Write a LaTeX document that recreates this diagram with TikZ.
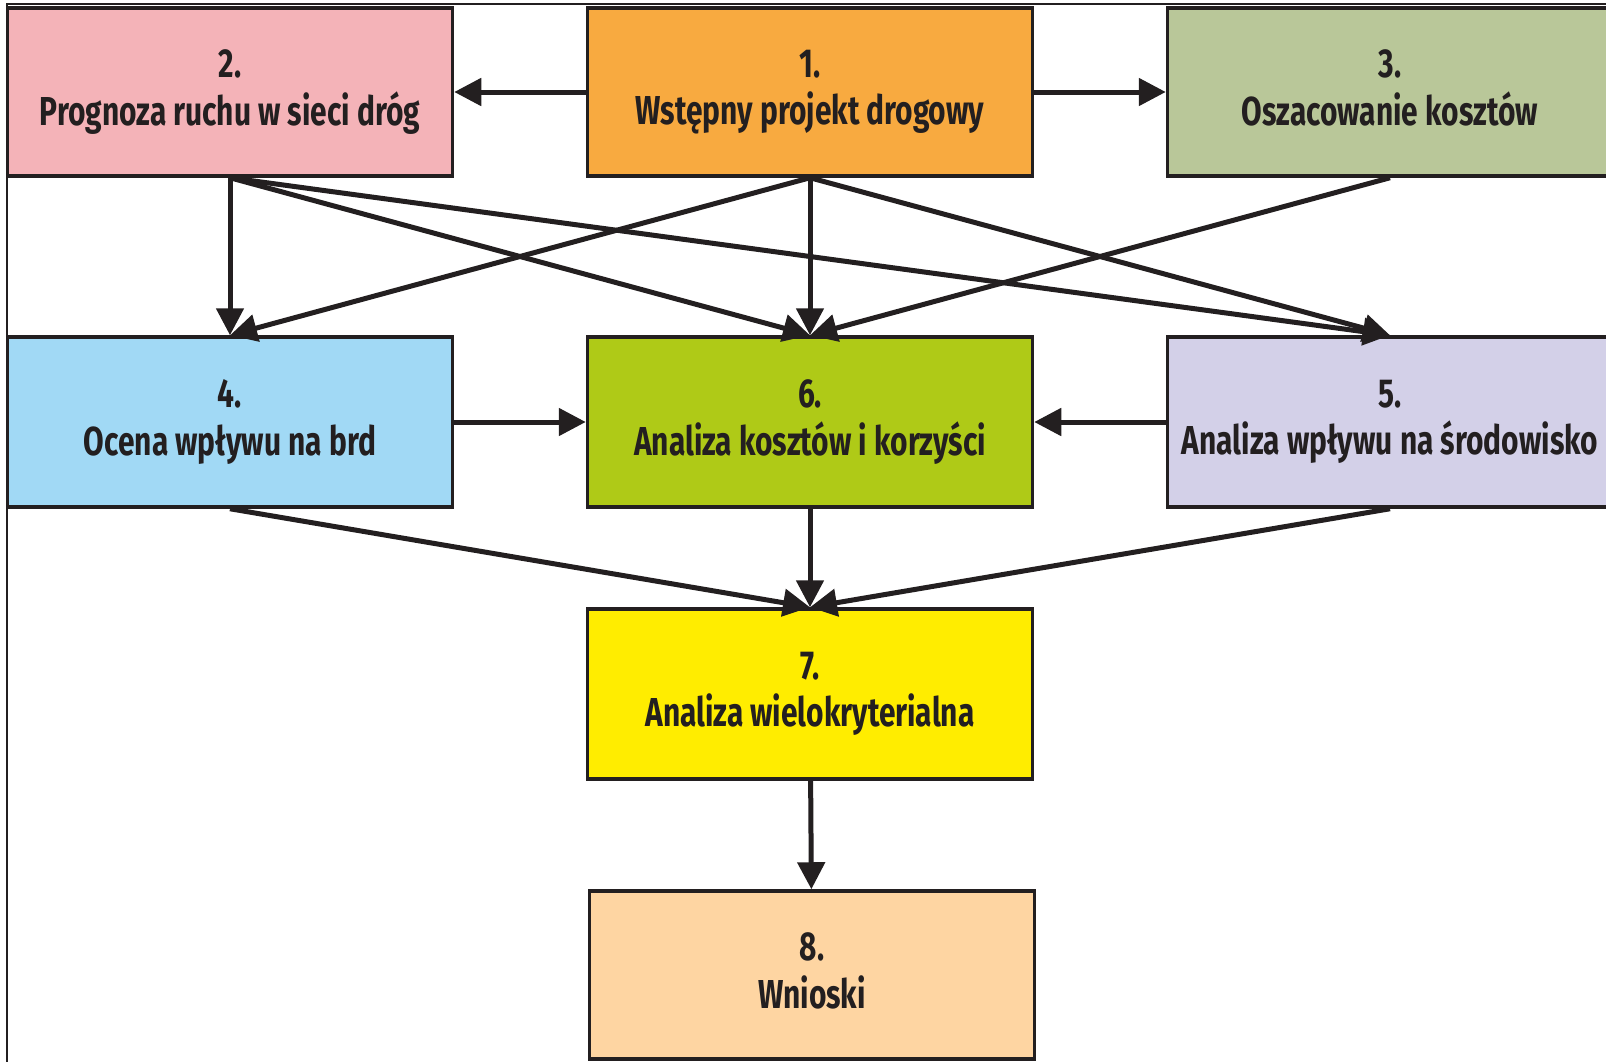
\documentclass[tikz,border=0pt]{standalone}
\usepackage{fontspec}
\setmainfont[FakeStretch=0.74]{Fira Sans}
\usetikzlibrary{arrows.meta}

\definecolor{tekst}{HTML}{231F20}
\definecolor{kolor1}{HTML}{F8AA40}
\definecolor{kolor2}{HTML}{F4B3B8}
\definecolor{kolor3}{HTML}{B9C799}
\definecolor{kolor4}{HTML}{A1D9F5}
\definecolor{kolor5}{HTML}{D3D0E8}
\definecolor{kolor6}{HTML}{AFCA17}
\definecolor{kolor7}{HTML}{FFED00}
\definecolor{kolor8}{HTML}{FED5A2}

\newcommand{\krokopis}[2]{#1.\\#2\vphantom{pjg}}

\tikzstyle{krok} = [draw=tekst, line width=0.35mm, minimum width=44.5mm, minimum height=16.8mm, align=center, text=tekst, font=\fontsize{11.5}{13.5}\selectfont\bfseries]
\tikzstyle{strzalka} = [draw=tekst, line width=0.5mm, -{Triangle[length=2.7mm,width=2.7mm]}]

\begin{document}
\begin{tikzpicture}[x=0.1mm, y=-0.1mm]
	\useasboundingbox (0,0) rectangle (1606,1061);
	\clip (0,0) rectangle (1606,1061);
	\draw[tekst, line width=0.15mm] (7,1100) |- (1700,4);

	\node[krok, fill=kolor1] (n1) at (810,92) {\krokopis{1}{Wstępny projekt drogowy}};
	\node[krok, fill=kolor2] (n2) at (230,92) {\krokopis{2}{Prognoza ruchu w sieci dróg}};
	\node[krok, fill=kolor3] (n3) at (1390,92) {\krokopis{3}{Oszacowanie kosztów}};
	\node[krok, fill=kolor4, minimum height=17mm] (n4) at (230,422) {\krokopis{4}{Ocena wpływu na brd}};
	\node[krok, fill=kolor5, minimum height=17mm] (n5) at (1390,422) {\krokopis{5}{Analiza wpływu na środowisko}};
	\node[krok, fill=kolor6, minimum height=17mm] (n6) at (810,422) {\krokopis{6}{Analiza kosztów i korzyści}};
	\node[krok, fill=kolor7, minimum height=17mm] (n7) at (810,694) {\krokopis{7}{Analiza wielokryterialna}};
	\node[krok, fill=kolor8] (n8) at (812,975) {\krokopis{8}{Wnioski}};

	\draw[strzalka] (n1) -- (n2);
	\draw[strzalka] (n1) -- (n3);

	\draw[strzalka] (n2.south) -- (n4.north);
	\draw[strzalka] (n2.south) -- (n6.north);
	\draw[strzalka] (n2.south) -- (n5.north);

	\draw[strzalka] (n1.south) -- (n4.north);
	\draw[strzalka] (n1.south) -- (n6.north);
	\draw[strzalka] (n1.south) -- (n5.north);

	\draw[strzalka] (n3.south) -- (n6.north);

	\draw[strzalka] (n4) -- (n6);
	\draw[strzalka] (n5) -- (n6);

	\draw[strzalka] (n4.south) -- (n7.north);
	\draw[strzalka] (n6.south) -- (n7.north);
	\draw[strzalka] (n5.south) -- (n7.north);

	\draw[strzalka] (n7) -- (n8);
\end{tikzpicture}
\end{document}
